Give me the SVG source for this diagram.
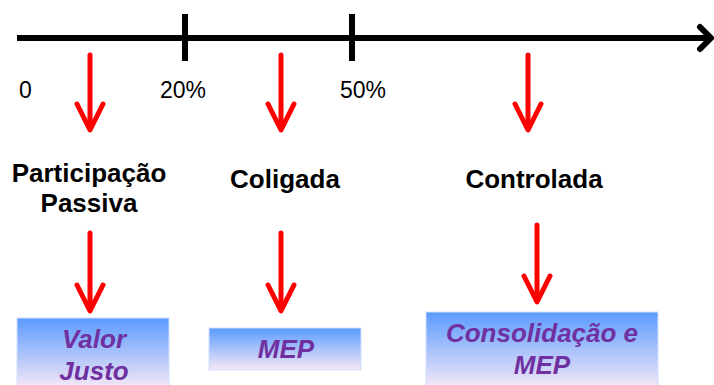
<svg xmlns="http://www.w3.org/2000/svg" width="714" height="385" viewBox="0 0 714 385">
<defs>
<linearGradient id="g" x1="0" y1="0" x2="0" y2="1">
<stop offset="0" stop-color="#5a9bff"/>
<stop offset="1" stop-color="#f6e8f6"/>
</linearGradient>
<style>
.ax{stroke:#000;stroke-width:6;fill:none}
.ra{stroke:#ff0000;stroke-width:5;fill:none;stroke-linecap:round;stroke-linejoin:round}
.num{font-family:"Liberation Sans",Arial,sans-serif;font-size:23px;fill:#000}
.lab{font-family:"Liberation Sans",Arial,sans-serif;font-size:26px;font-weight:bold;fill:#000;text-anchor:middle}
.bx{fill:url(#g);stroke:#cfe0ff;stroke-width:1}
.bt{font-family:"Liberation Sans",Arial,sans-serif;font-size:26px;font-weight:bold;font-style:italic;fill:#7030a0;text-anchor:middle}
</style>
</defs>
<g id="axis">
<line class="ax" x1="17" y1="38" x2="708" y2="38"/>
<polyline class="ax" points="700,27 711,38 700,49" stroke-linecap="round" stroke-linejoin="round"/>
<line class="ax" x1="185" y1="14" x2="185" y2="61"/>
<line class="ax" x1="352" y1="14" x2="352" y2="61"/>
<text class="num" x="19" y="98">0</text>
<text class="num" x="160" y="98">20%</text>
<text class="num" x="340" y="98">50%</text>
</g>
<g id="connectors">
<line class="ra" x1="90" y1="55" x2="90" y2="128"/>
<polyline class="ra" points="77,104 90,130 103,104"/>
<line class="ra" x1="281" y1="55" x2="281" y2="128"/>
<polyline class="ra" points="268,104 281,130 294,104"/>
<line class="ra" x1="528" y1="55" x2="528" y2="128"/>
<polyline class="ra" points="515,104 528,130 541,104"/>
<line class="ra" x1="90" y1="233" x2="90" y2="309"/>
<polyline class="ra" points="77,285 90,311 103,285"/>
<line class="ra" x1="281" y1="233" x2="281" y2="309"/>
<polyline class="ra" points="268,285 281,311 294,285"/>
<line class="ra" x1="537" y1="225" x2="537" y2="300"/>
<polyline class="ra" points="524,276 537,302 550,276"/>
</g>
<g id="n-passiva">
<text class="lab" x="89" y="182">Participação</text>
<text class="lab" x="89" y="212">Passiva</text>
</g>
<g id="n-coligada">
<text class="lab" x="285" y="188">Coligada</text>
</g>
<g id="n-controlada">
<text class="lab" x="534" y="188">Controlada</text>
</g>
<g id="b-valor">
<rect class="bx" x="17" y="318" width="152" height="70"/>
<text class="bt" x="94" y="348">Valor</text>
<text class="bt" x="94" y="380">Justo</text>
</g>
<g id="b-mep">
<rect class="bx" x="209" y="328" width="152" height="42"/>
<text class="bt" x="286" y="358">MEP</text>
</g>
<g id="b-consol">
<rect class="bx" x="426" y="312" width="232" height="76"/>
<text class="bt" x="542" y="342">Consolidação e</text>
<text class="bt" x="542" y="374">MEP</text>
</g>
</svg>
